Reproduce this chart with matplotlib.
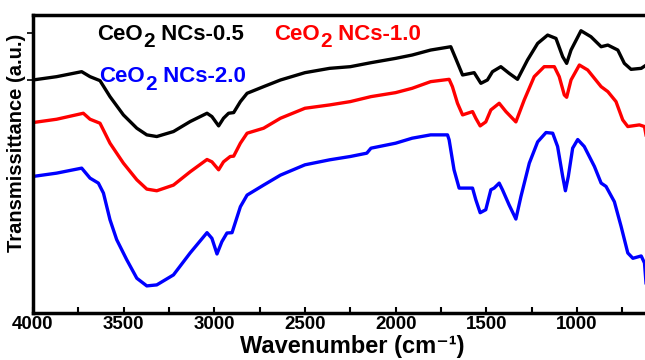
import numpy as np
import matplotlib.pyplot as plt
from matplotlib.ticker import MultipleLocator

plt.rcParams['font.family'] = ['Liberation Sans', 'DejaVu Sans']
plt.rcParams['font.weight'] = 'bold'

# FTIR spectra (wavenumber in cm-1, transmittance in a.u.)
wn_05 = [4000, 3869, 3731, 3685, 3630, 3575, 3501, 3427, 3372, 3317, 3225, 3133,
         3040, 3013, 2976, 2949, 2921, 2893, 2856, 2819, 2728, 2635, 2500, 2364,
         2250, 2136, 2000, 1909, 1807, 1696, 1669, 1631, 1567, 1530, 1494, 1466,
         1420, 1374, 1328, 1273, 1217, 1162, 1116, 1079, 1057, 1033, 978, 923,
         867, 830, 775, 739, 702, 646, 618]
t_05 = [70.0, 71.0, 72.5, 71.0, 69.8, 65.0, 59.5, 55.5, 53.5, 53.0, 54.5, 57.5,
        60.0, 59.0, 56.2, 58.5, 60.0, 60.2, 63.5, 66.0, 68.0, 70.0, 72.2, 73.5,
        74.0, 75.2, 76.5, 77.5, 79.0, 80.0, 76.5, 71.5, 72.2, 69.0, 70.0, 72.5,
        74.0, 72.0, 70.2, 76.0, 81.0, 83.5, 82.5, 77.0, 75.0, 79.0, 84.8, 83.0,
        80.0, 80.5, 79.0, 75.0, 73.2, 73.5, 74.5]

wn_10 = [4000, 3869, 3722, 3685, 3630, 3575, 3501, 3427, 3372, 3317, 3225, 3133,
         3040, 3013, 2976, 2949, 2912, 2893, 2856, 2819, 2728, 2635, 2500, 2364,
         2250, 2136, 2000, 1909, 1807, 1705, 1687, 1659, 1631, 1576, 1558, 1534,
         1503, 1475, 1429, 1392, 1337, 1291, 1236, 1181, 1125, 1098, 1070, 1057,
         1033, 987, 941, 867, 830, 785, 748, 720, 656, 628, 618]
t_10 = [57.2, 58.2, 60.0, 58.2, 57.0, 51.0, 45.0, 40.0, 37.2, 36.7, 38.4, 42.4,
        46.1, 45.4, 43.0, 45.4, 47.0, 47.1, 51.0, 54.0, 55.5, 58.5, 61.5, 62.5,
        63.5, 65.0, 66.2, 67.5, 69.5, 70.2, 68.0, 63.0, 59.5, 60.5, 58.5, 56.2,
        57.4, 61.0, 63.0, 60.5, 57.4, 64.0, 71.0, 74.0, 74.0, 71.0, 65.5, 64.8,
        70.0, 74.5, 73.0, 68.0, 66.5, 63.5, 58.0, 56.0, 56.5, 56.0, 53.0]

wn_20 = [4000, 3869, 3731, 3685, 3639, 3611, 3575, 3538, 3483, 3427, 3372, 3317,
         3225, 3133, 3040, 3013, 2985, 2958, 2930, 2902, 2856, 2819, 2728, 2635,
         2500, 2364, 2250, 2159, 2136, 2000, 1909, 1807, 1714, 1705, 1678, 1650,
         1576, 1558, 1534, 1503, 1475, 1457, 1429, 1411, 1374, 1337, 1309, 1263,
         1217, 1171, 1134, 1107, 1079, 1064, 1048, 1024, 996, 960, 904, 867,
         840, 794, 757, 720, 692, 646, 628, 618]
t_20 = [41.0, 42.0, 43.5, 40.5, 39.0, 36.0, 28.0, 22.0, 16.0, 10.4, 8.1, 8.4,
        11.4, 18.0, 24.1, 22.4, 17.7, 21.4, 24.0, 24.1, 31.9, 35.4, 38.4, 41.4,
        44.5, 46.0, 47.0, 48.0, 49.5, 51.0, 52.5, 53.5, 53.5, 52.0, 43.0, 37.5,
        37.5, 34.0, 30.1, 31.0, 37.0, 37.5, 39.0, 37.0, 32.4, 28.2, 35.0, 45.0,
        51.4, 54.2, 54.0, 50.0, 41.0, 36.7, 41.0, 49.5, 52.1, 50.0, 44.0, 39.0,
        38.0, 33.4, 26.0, 18.0, 16.4, 17.1, 15.0, 7.9]

labels = ['NCs-0.5', 'NCs-1.0', 'NCs-2.0']
colors = ['black', '#ff0000', '#0000ff']

fig = plt.figure(figsize=(6.45, 3.6), dpi=100)
ax = fig.add_axes([0.051, 0.131, 0.951, 0.827])

ax.plot(wn_05, t_05, color=colors[0], lw=2.4)
ax.plot(wn_10, t_10, color=colors[1], lw=2.4)
ax.plot(wn_20, t_20, color=colors[2], lw=2.4)

ax.set_xlim(4000, 618)
ax.set_ylim(0, 89.5)

ax.xaxis.set_minor_locator(MultipleLocator(250))
ax.set_xticks([1000, 1500, 2000, 2500, 3000, 3500, 4000])
ax.tick_params(axis='x', which='both', direction='in', length=4, width=1.5,
               labelsize=13.5, pad=2)
ax.set_yticks([70, 84])
ax.set_yticklabels([])
ax.tick_params(axis='y', direction='out', length=4, width=1.2)
for lab in ax.get_xticklabels():
    lab.set_fontweight('bold')

for s in ['left', 'top', 'bottom']:
    ax.spines[s].set_linewidth(2.5)
ax.spines['right'].set_visible(False)

ax.set_xlabel('Wavenumber (cm\u207b\u00b9)', fontsize=17, fontweight='bold')
ax.xaxis.set_label_coords(0.52, -0.075)
ax.set_ylabel('Transmissittance (a.u.)', fontsize=14.5, fontweight='bold')
ax.yaxis.set_label_coords(-0.012, 0.57)


def ceo2_label(x, y, name, color):
    # "CeO" + lowered, nearly full size "2" + name, like the original figure
    t1 = ax.text(x, y, 'CeO', transform=ax.transAxes, color=color,
                 fontsize=16, fontweight='bold', va='baseline')
    t2 = ax.annotate('2', xy=(1, 0), xycoords=t1, xytext=(0.5, -5),
                     textcoords='offset points', color=color, fontsize=15,
                     fontweight='bold', va='bottom')
    ax.annotate(' ' + name, xy=(1, 0), xycoords=t2, xytext=(0, 5),
                textcoords='offset points', color=color, fontsize=16,
                fontweight='bold', va='bottom')


ceo2_label(0.104, 0.918, labels[0], colors[0])
ceo2_label(0.393, 0.918, labels[1], colors[1])
ceo2_label(0.108, 0.775, labels[2], colors[2])

plt.savefig('out.png', dpi=100)
